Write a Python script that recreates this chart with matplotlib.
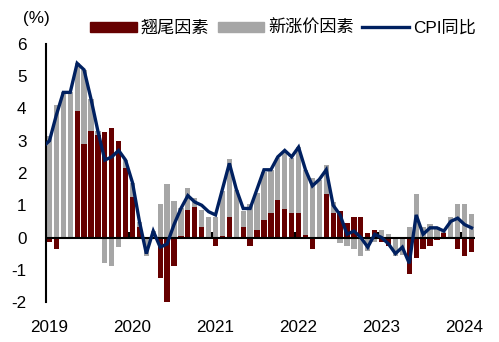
import numpy as np
import matplotlib
matplotlib.use("Agg")
import matplotlib.pyplot as plt
from matplotlib.patches import Patch
from matplotlib.lines import Line2D

plt.rcParams['font.family'] = ['Liberation Sans', 'Noto Sans CJK SC', 'DejaVu Sans']

# Months: Sep 2019 .. Oct 2024 (bars); line also includes Aug 2019 (clipped at left edge)
carry = [-0.15, -0.36, 0.0, 0.0,
         3.92, 2.89, 3.30, 3.18, 3.26, 3.41, 2.99, 2.16, 1.26, 0.34, 0.0, 0.0,
         -1.27, -2.0, -0.88, 0.05, 0.85, 0.94, 0.33, -0.06, -0.25, 0.04, 0.65, 0.0,
         0.33, -0.25, 0.23, 0.54, 0.75, 1.16, 0.87, 0.75, 0.75, 0.07, -0.35, 0.0,
         1.35, 0.76, 0.83, 0.44, 0.63, 0.63, 0.13, 0.22, -0.14, -0.25, 0.0, 0.0,
         -1.14, -0.65, -0.35, -0.27, -0.08, 0.15, -0.06, -0.36, -0.57, -0.45]
newprice = [3.15, 4.11, 4.5, 4.5,
            1.48, 2.31, 1.0, 0.12, -0.79, -0.88, -0.29, 0.24, 0.42, 0.13, -0.58, 0.2,
            1.04, 1.66, 1.13, 0.85, 0.67, 0.27, 0.53, 0.64, 0.63, 1.41, 1.77, 1.47,
            0.5, 1.04, 1.14, 1.5, 1.34, 1.29, 1.79, 1.7, 2.05, 2.03, 1.83, 1.78,
            0.9, 0.35, -0.17, -0.25, -0.36, -0.58, -0.42, -0.13, 0.22, 0.12, -0.58, -0.55,
            0.33, 1.35, 0.33, 0.41, 0.33, 0.02, 0.64, 1.03, 1.03, 0.72]
cpi = [2.8, 3.0, 3.8, 4.5, 4.5,
       5.4, 5.2, 4.3, 3.3, 2.4, 2.5, 2.7, 2.4, 1.7, 0.5, -0.5, 0.2,
       -0.3, -0.2, 0.4, 0.9, 1.3, 1.1, 1.0, 0.8, 0.7, 1.5, 2.3, 1.5,
       0.9, 0.9, 1.5, 2.1, 2.1, 2.5, 2.7, 2.5, 2.8, 2.1, 1.6, 1.8,
       2.1, 1.0, 0.7, 0.1, 0.2, 0.0, -0.3, 0.1, 0.0, -0.2, -0.5, -0.3,
       -0.8, 0.7, 0.1, 0.3, 0.3, 0.2, 0.5, 0.6, 0.4, 0.3]
year_labels = ['2019', '2020', '2021', '2022', '2023', '2024']
y_ticks = [-2, -1, 0, 1, 2, 3, 4, 5, 6]

RED = '#660000'
GRAY = '#A6A6A6'
NAVY = '#002060'

carry = np.array(carry)
newprice = np.array(newprice)
n = len(carry)
x = np.arange(n)
xl = np.arange(-1, n)

gray_bottom = np.where(newprice >= 0, np.maximum(carry, 0), np.minimum(carry, 0))

fig = plt.figure(figsize=(4.99, 3.42), dpi=100)
ax = fig.add_axes([46/499, 1-302/342, 429/499, 258/342])

w = 0.76
ax.bar(x, carry, width=w, color=RED, zorder=2)
ax.bar(x, newprice, width=w, bottom=gray_bottom, color=GRAY, zorder=2)
ax.axhline(0, color='black', lw=1.5, zorder=3)
ax.plot(xl, cpi, color=NAVY, lw=2.4, zorder=4, solid_joinstyle='miter')

ax.set_xlim(-0.5, n - 0.5)
ax.set_ylim(-2, 6)

tick_pos = np.arange(len(year_labels)) * 12
ax.vlines(tick_pos - 0.5, 0, 0.17, color='black', lw=1.5, zorder=3)
ax.set_xticks(tick_pos)
ax.set_xticklabels(year_labels)
ax.set_yticks(y_ticks)
ax.set_yticklabels([str(v) for v in y_ticks])
ax.tick_params(axis='x', length=0, pad=13, labelsize=12.3)
ax.tick_params(axis='y', length=0, pad=14, labelsize=12.3)

for s in ['top', 'right', 'bottom']:
    ax.spines[s].set_visible(False)
ax.spines['left'].set_linewidth(1.5)

fig.text(36/499, 1-19/342, '(%)', ha='center', va='center', fontsize=12.3)

handles = [Patch(color=RED), Patch(color=GRAY), Line2D([0], [0], color=NAVY, lw=2.4)]
labels = ['翘尾因素', '新涨价因素', 'CPI同比']
fig.legend(handles, labels, loc='center', bbox_to_anchor=(283/499, 1-28/342), ncol=3,
           frameon=False, fontsize=12.3, handlelength=2.7, handleheight=0.6,
           handletextpad=0.25, columnspacing=0.5, borderpad=0, borderaxespad=0)

fig.savefig('out.png', dpi=100)
